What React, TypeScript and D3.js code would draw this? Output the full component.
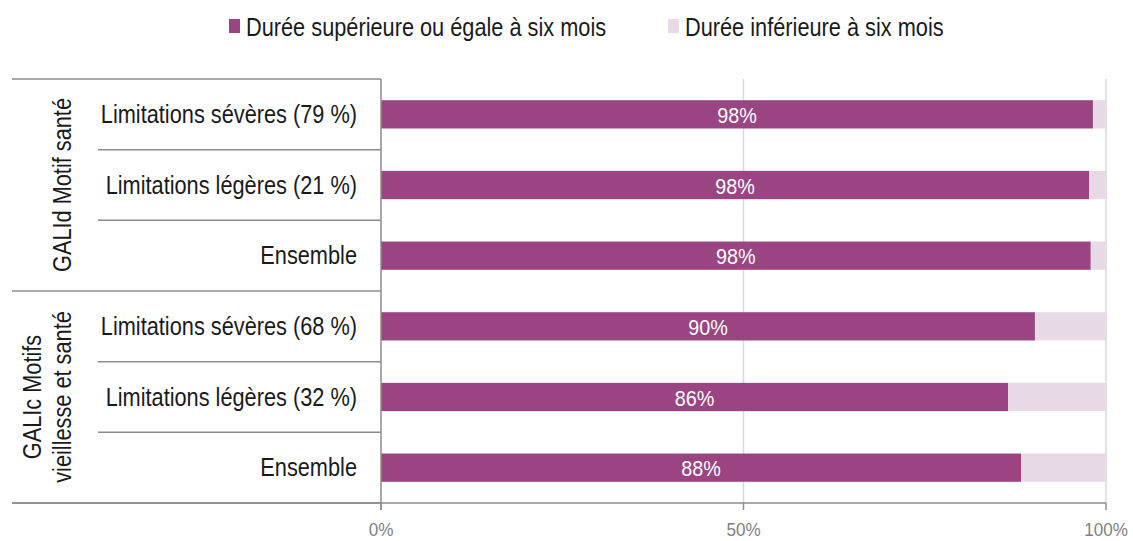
import React from 'react';
import * as d3 from 'd3';

// Categories (top to bottom)
const groups = ['GALId Motif santé', 'GALIc Motifs vieillesse et santé'];
const groupLines = [['GALId Motif santé'], ['GALIc Motifs', 'vieillesse et santé']];
const categories = [
  'Limitations sévères (79 %)',
  'Limitations légères (21 %)',
  'Ensemble',
  'Limitations sévères (68 %)',
  'Limitations légères (32 %)',
  'Ensemble',
];
const categoryGroup = [0, 0, 0, 1, 1, 1];
const longDuration = [98.2, 97.7, 97.9, 90.2, 86.5, 88.3];
const barLabels = ['98%', '98%', '98%', '90%', '86%', '88%'];
const seriesNames = ['Durée supérieure ou égale à six mois', 'Durée inférieure à six mois'];
const xTicks = [0, 50, 100];

const W = 1133;
const H = 541;
const FONT = '"Liberation Sans", Arial, sans-serif';
const DARK = '#9b4482';
const LIGHT = '#e8d9e6';
const AXIS = '#8c8c8c';
const GRID = '#d9d9d9';
const TEXT = '#1a1a1a';

// condensed text: Liberation Sans squeezed horizontally to mimic a narrow face
const NarrowText = ({
  x,
  y,
  children,
  size = 25,
  squeeze = 0.87,
  anchor = 'start',
  fill = TEXT,
  rotate = 0,
}: {
  x: number;
  y: number;
  children: React.ReactNode;
  size?: number;
  squeeze?: number;
  anchor?: string;
  fill?: string;
  rotate?: number;
}) => (
  <text
    transform={`translate(${x},${y}) rotate(${rotate}) scale(${squeeze},1)`}
    dy="0.35em"
    textAnchor={anchor}
    fontSize={size}
    fill={fill}
    fontFamily={FONT}
  >
    {children}
  </text>
);

const App = () => {
  const top = 79;
  const bottom = 503;
  const left = 381;
  const right = 1106;

  const x = d3.scaleLinear().domain([0, 100]).range([left, right]);
  const y = d3
    .scaleBand<number>()
    .domain(categories.map((_, i) => i))
    .range([top, bottom])
    .paddingInner(0.6)
    .paddingOuter(0.3);
  const slice = (bottom - top) / categories.length;
  const rowY0 = (i: number) => top + i * slice;

  const legendX = [229, 668];

  return (
    <svg
      width={W}
      height={H}
      style={{ position: 'absolute', left: 0, top: 0, background: '#fff' }}
      fontFamily={FONT}
    >
      {/* legend */}
      {seriesNames.map((name, i) => (
        <g key={name}>
          <rect x={legendX[i]} y={19} width={11} height={14} fill={i === 0 ? DARK : LIGHT} />
          <NarrowText x={legendX[i] + 17} y={27}>
            {name}
          </NarrowText>
        </g>
      ))}

      {/* gridlines */}
      {xTicks.slice(1).map((t) => (
        <line key={t} x1={x(t)} x2={x(t)} y1={top} y2={bottom} stroke={GRID} strokeWidth={1.5} />
      ))}

      {/* bars */}
      {categories.map((c, i) => {
        const by = y(i) as number;
        const bh = y.bandwidth();
        return (
          <g key={i}>
            <rect x={x(0)} y={by} width={x(longDuration[i]) - x(0)} height={bh} fill={DARK} />
            <rect
              x={x(longDuration[i])}
              y={by}
              width={x(100) - x(longDuration[i])}
              height={bh}
              fill={LIGHT}
            />
            <NarrowText
              x={x(longDuration[i] / 2)}
              y={by + bh / 2 + 1}
              anchor="middle"
              size={22}
              squeeze={0.9}
              fill="#fff"
            >
              {barLabels[i]}
            </NarrowText>
          </g>
        );
      })}

      {/* category labels */}
      {categories.map((c, i) => (
        <NarrowText key={i} x={left - 24} y={(y(i) as number) + y.bandwidth() / 2} anchor="end">
          {c}
        </NarrowText>
      ))}

      {/* row separators inside groups */}
      {categories.map((_, i) =>
        i > 0 && categoryGroup[i] === categoryGroup[i - 1] ? (
          <line key={i} x1={98} x2={left} y1={rowY0(i)} y2={rowY0(i)} stroke={AXIS} strokeWidth={1.5} />
        ) : null
      )}

      {/* group separators */}
      {[0, 3, 6].map((i) => (
        <line key={i} x1={12} x2={left} y1={rowY0(i)} y2={rowY0(i)} stroke={AXIS} strokeWidth={1.5} />
      ))}

      {/* group labels */}
      {groups.map((g, gi) => {
        const idx = categoryGroup.map((v, k) => (v === gi ? k : -1)).filter((k) => k >= 0);
        const cy = (rowY0(idx[0]) + rowY0(idx[idx.length - 1]) + slice) / 2;
        const lines = groupLines[gi];
        const lh = 30;
        const cx = 62 - (lines.length - 1) * lh;
        return (
          <g key={g}>
            {lines.map((ln, li) => (
              <NarrowText key={li} x={cx + li * lh} y={cy} rotate={-90} anchor="middle">
                {ln}
              </NarrowText>
            ))}
          </g>
        );
      })}

      {/* vertical axis */}
      <line x1={left} x2={left} y1={top} y2={bottom + 7} stroke={AXIS} strokeWidth={1.5} />
      {/* bottom axis */}
      <line x1={12} x2={right} y1={bottom} y2={bottom} stroke={AXIS} strokeWidth={1.5} />
      {xTicks.map((t) => (
        <g key={t}>
          <line x1={x(t)} x2={x(t)} y1={bottom} y2={bottom + 7} stroke={AXIS} strokeWidth={1.5} />
          <NarrowText x={x(t)} y={529} anchor="middle" size={19} squeeze={0.9} fill="#7f7f7f">
            {t}%
          </NarrowText>
        </g>
      ))}
    </svg>
  );
};

export default App;
